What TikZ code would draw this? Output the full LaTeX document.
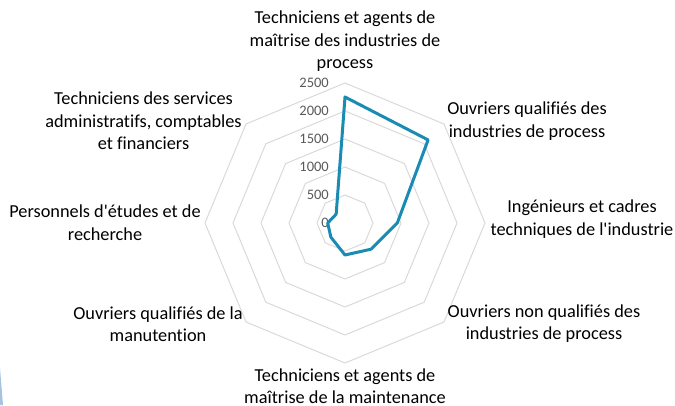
\documentclass[tikz,border=0pt]{standalone}
\usepackage{fontspec}
\setmainfont{Carlito}[RawFeature={-liga}]
\usepackage{tikz}
\definecolor{gridgray}{HTML}{D9D9D9}
\definecolor{seriesblue}{HTML}{1A8BB3}
\definecolor{tickgray}{HTML}{595959}
\definecolor{cornerblue}{HTML}{A6C3DF}
\tikzset{
    catlabel/.style={align=center, text=black, inner sep=0pt,
            font=\fontsize{18.3}{22.5}\selectfont},
    ticklabel/.style={anchor=east, text=tickgray, inner sep=0pt,
            font=\fontsize{14.5}{17}\selectfont},
    ring/.style={draw=gridgray, line width=1pt},
    series/.style={draw=seriesblue, line width=3pt, line join=round},
}

\begin{document}
\begin{tikzpicture}[x=1pt, y=-1pt]
        \useasboundingbox (0, 0) rectangle (675, 405);
        %draw the corner shading at the bottom left
        \fill[cornerblue] (0, 368) -- (3, 405) -- (0, 405) -- cycle;
        \begin{scope}[shift={(345pt, -223pt)}, x=1pt, y=1pt]
            %draw the octagonal grid rings
            \foreach \r in {28, 56, 84, 112, 140}
                \draw[ring] (90:\r) -- (45:\r) -- (0:\r) -- (-45:\r) -- (-90:\r)
                    -- (-135:\r) -- (180:\r) -- (135:\r) -- cycle;
            %label the rings
            \foreach \v [count=\i from 0] in {0, 500, 1000, 1500, 2000, 2500}
                \node[ticklabel] (tick\i) at (-16, 28*\i) {\v};
            %place the data points
            \coordinate (p1) at (90:126);
            \coordinate (p2) at (45:117.5);
            \coordinate (p3) at (0:52.3);
            \coordinate (p4) at (-45:37);
            \coordinate (p5) at (-90:32);
            \coordinate (p6) at (-135:20);
            \coordinate (p7) at (180:17.3);
            \coordinate (p8) at (135:12.5);
            %draw the data line
            \draw[series] (p1) -- (p2) -- (p3) -- (p4) -- (p5) -- (p6) -- (p7) -- (p8) -- cycle;
        \end{scope}
        %label the categories
        \node[catlabel] (cat1) at (345, 41.5) {Techniciens et agents de\\maîtrise des industries de\\process};
        \node[catlabel] (cat2) at (527, 121) {Ouvriers qualifiés des\\industries de process};
        \node[catlabel] (cat3) at (582, 219) {Ingénieurs et cadres\\techniques de l\textquotesingle industrie};
        \node[catlabel] (cat4) at (544, 323.5) {Ouvriers non qualifiés des\\industries de process};
        \node[catlabel] (cat5) at (345, 386) {Techniciens et agents de\\maîtrise de la maintenance};
        \node[catlabel] (cat6) at (158, 324) {Ouvriers qualifiés de la\\manutention};
        \node[catlabel] (cat7) at (105, 222.5) {Personnels d\textquotesingle études et de\\recherche};
        \node[catlabel] (cat8) at (143.5, 121) {Techniciens des services\\administratifs, comptables\\et financiers};
    \end{tikzpicture}
\end{document}
